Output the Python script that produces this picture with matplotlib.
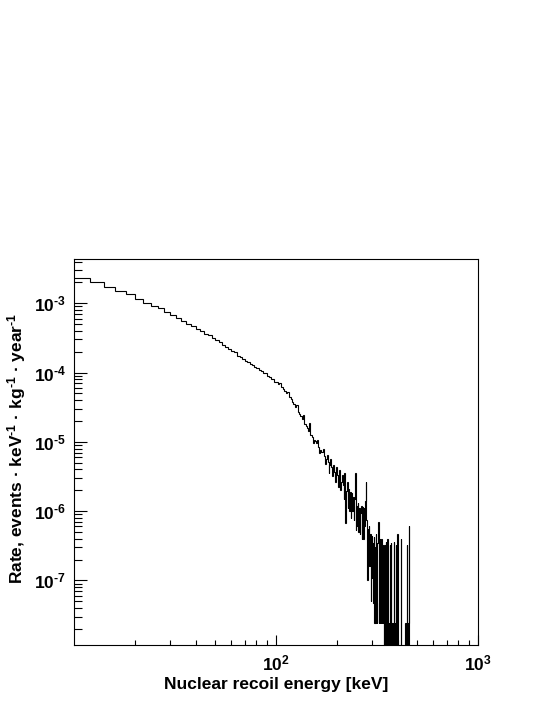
import numpy as np
import matplotlib
matplotlib.use("Agg")
import matplotlib.pyplot as plt
from matplotlib.ticker import FixedLocator, LogLocator, NullFormatter, FuncFormatter

plt.rcParams['font.family'] = ['Liberation Sans', 'DejaVu Sans']
plt.rcParams['mathtext.fontset'] = 'custom'
plt.rcParams['mathtext.rm'] = 'Liberation Sans:bold'
plt.rcParams['mathtext.bf'] = 'Liberation Sans:bold'
plt.rcParams['mathtext.default'] = 'bf'

# histogram: 2 keV bins starting at 10 keV
bin_lo = 10
bin_width = 2

# rate per bin [events / keV / kg / year]
rate_low = [2.34e-3, 2.05e-3, 1.72e-3, 1.52e-3, 1.35e-3, 1.16e-3,
            1.02e-3, 9.1e-4, 8.5e-4, 7.5e-4, 6.8e-4, 6.2e-4]          # 10-34 keV

rate_mid = [5.6e-4, 5.1e-4, 4.7e-4, 4.3e-4, 4.0e-4, 3.6e-4, 3.45e-4, 3.15e-4, 2.95e-4, 2.75e-4,
            2.5e-4, 2.35e-4, 2.2e-4, 2.05e-4, 1.95e-4, 1.75e-4, 1.7e-4, 1.58e-4, 1.48e-4, 1.41e-4,
            1.35e-4, 1.29e-4, 1.2e-4, 1.15e-4, 1.1e-4, 1.05e-4, 1.0e-4, 9.9e-5, 8.9e-5, 8.5e-5,
            8.1e-5, 8.2e-5, 7.4e-5]                                      # 34-100 keV

rate_high1 = [7.2e-5, 6.8e-5, 7.0e-5, 6.2e-5, 5.75e-5, 5.4e-5, 5.0e-5, 5.2e-5, 4.5e-5, 4.1e-5,
              3.8e-5, 3.55e-5, 3.2e-5, 3.4e-5, 2.7e-5, 2.5e-5, 2.35e-5, 2.15e-5, 2.4e-5, 1.8e-5,
              1.7e-5, 1.58e-5, 1.45e-5, 1.9e-5, 1.26e-5, 1.17e-5, 9.5e-6, 1.07e-5, 1.02e-5, 9.5e-6,
              1.05e-5, 8.5e-6, 7.0e-6, 7.6e-6, 7.1e-6, 8.0e-6, 6.3e-6, 4.8e-6, 5.6e-6, 6.5e-6,
              5.1e-6, 3.6e-6, 4.7e-6, 5.6e-6, 4.3e-6, 3.2e-6, 4.6e-6, 3.7e-6, 2.6e-6, 4.4e-6]  # 100-200 keV

rate_high2 = [3.3e-6, 2.2e-6, 3.1e-6, 3.9e-6, 2.0e-6, 2.6e-6, 3.3e-6, 2.4e-6, 1.5e-6, 3.6e-6,
              6.8e-7, 1.95e-6, 2.6e-6, 1.1e-6, 2.1e-6, 1.0e-6, 1.9e-6, 8.0e-7, 1.8e-6, 1.0e-6,
              1.6e-6, 7.5e-7, 1.5e-6, 3.5e-6, 5.4e-7, 1.2e-6, 6.0e-7, 1.3e-6, 5.0e-7, 1.1e-6,
              4.6e-7, 9.5e-7, 1.2e-6, 4.0e-7, 1.15e-6, 3.9e-7, 1.1e-6, 6.0e-7, 1.4e-6, 2.6e-6,
              7.4e-7, 1.0e-7, 5.5e-7, 2.5e-7, 6.0e-7, 1.6e-7, 4.6e-7, 5.0e-8, 4.4e-7, 1.1e-7]  # 200-300 keV

rate_tail = [3.5e-7, 4.7e-8, 4.2e-7, 2.4e-8, 3.0e-7, 2.4e-8, 4.6e-7, 4.7e-8, 2.4e-8, 3.5e-7,
             7.0e-7, 2.4e-8, 4.0e-7, 2.4e-8, 3.2e-7, 2.4e-8, 3.9e-7, 2.4e-8, 3.2e-7, 2.4e-8,
             4.7e-8, 0, 3.2e-7, 2.4e-8, 0, 3.6e-7, 0, 2.4e-8, 3.9e-7, 0,
             0, 2.4e-8, 0, 3.2e-7, 0, 3.5e-7, 2.4e-8, 0, 0, 0,
             2.4e-8, 3.6e-7, 0, 0, 0, 2.4e-8, 3.2e-7, 0, 0, 4.7e-7,
             2.4e-8, 0, 0, 0, 0, 0, 0, 2.4e-8, 3.9e-7, 0,
             0, 0, 0, 0, 0, 0, 0, 0, 2.4e-8, 0,
             0, 0, 3.2e-7, 0, 0, 0, 2.4e-8, 6.0e-7, 0, 0]                 # 300-460 keV

rate = np.array(rate_low + rate_mid + rate_high1 + rate_high2 + rate_tail)
edges = bin_lo + bin_width * np.arange(len(rate) + 1)

# empty bins drop below the frame like in ROOT
rate_plot = np.where(rate > 0, rate, 1e-12)

fig = plt.figure(figsize=(5.45, 7.05), dpi=100)
ax = fig.add_axes([0.1358, 0.0855, 0.7412, 0.5471])

ax.stairs(rate_plot, edges, baseline=None, color='black', linewidth=0.8)

ax.set_xscale('log')
ax.set_yscale('log')
ax.set_xlim(10, 1000)
ax.set_ylim(1.18e-8, 4.35e-3)

ax.xaxis.set_major_locator(FixedLocator([100, 1000]))
ax.xaxis.set_minor_locator(LogLocator(base=10, subs=np.arange(2, 10)))
ax.xaxis.set_minor_formatter(NullFormatter())
ax.yaxis.set_major_locator(FixedLocator([1e-7, 1e-6, 1e-5, 1e-4, 1e-3]))
ax.yaxis.set_minor_locator(LogLocator(base=10, subs=np.arange(2, 10)))
ax.yaxis.set_minor_formatter(NullFormatter())

# ROOT style labels: short hyphen in the exponent
def pow_label(v, pos):
    e = int(round(np.log10(v)))
    if e < 0:
        return r'$\mathbf{10^{\text{-}%d}}$' % (-e)
    return r'$\mathbf{10^{%d}}$' % e

ax.xaxis.set_major_formatter(FuncFormatter(pow_label))
ax.yaxis.set_major_formatter(FuncFormatter(pow_label))

ax.tick_params(axis='both', which='both', direction='in', top=False, right=False,
               width=0.8, labelsize=12.5)
ax.tick_params(axis='y', which='major', length=9.5, pad=6)
ax.tick_params(axis='y', which='minor', length=5.5)
ax.tick_params(axis='x', which='major', length=7, pad=6)
ax.tick_params(axis='x', which='minor', length=3.8)

for sp in ax.spines.values():
    sp.set_linewidth(0.8)

ax.set_xlabel('Nuclear recoil energy [keV]', fontsize=12.5, fontweight='bold', labelpad=3)
ax.set_ylabel(r'Rate, events · keV$^{\text{-}1}$ · kg$^{\text{-}1}$ · year$^{\text{-}1}$',
              fontsize=12.5, fontweight='bold')
ax.yaxis.set_label_coords(-0.113, 0.51)

fig.savefig('out.png', dpi=100)
